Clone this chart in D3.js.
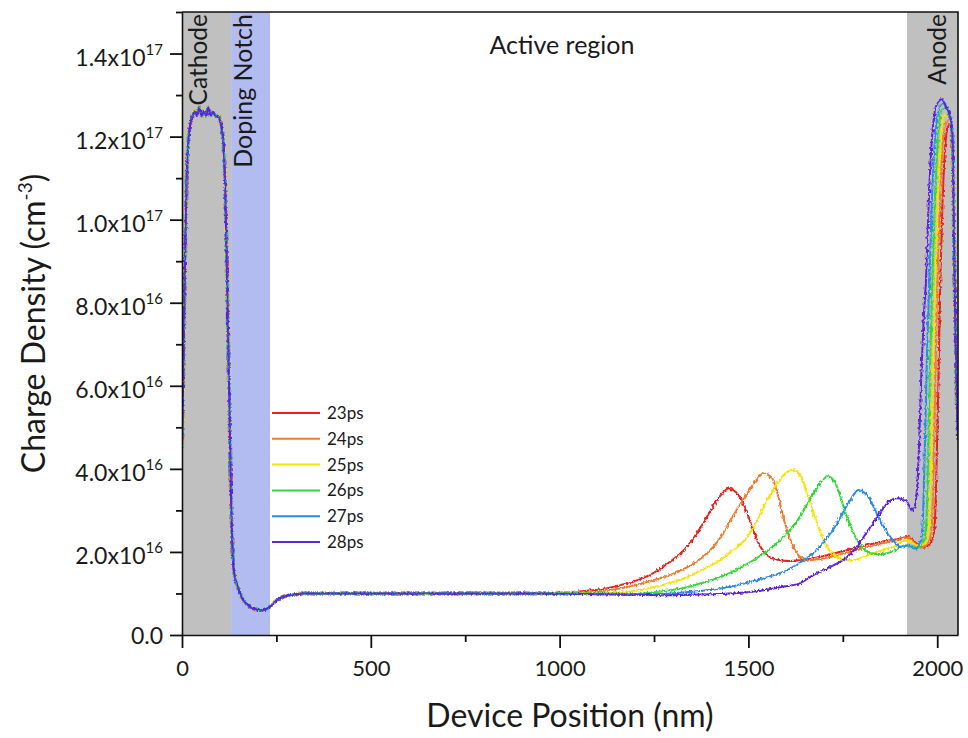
<!DOCTYPE html>
<html>
<head>
<meta charset="utf-8">
<script src="https://cdn.jsdelivr.net/npm/d3@7/dist/d3.min.js"></script>
<style>
  body { margin: 0; background: #fff; }
  svg { display: block; }
  text { font-family: Lato, "Open Sans", "DejaVu Sans", sans-serif; fill: #1a1a1a; }
</style>
</head>
<body>
<svg id="chart" width="968" height="738"></svg>
<script>
// ---- data: charge density (units of 1e16 cm^-3) versus device position (nm) ----
const seriesLabels = ["23ps", "24ps", "25ps", "26ps", "27ps", "28ps"];
const seriesColors = ["#e8231d", "#f07b2e", "#f5e400", "#33d838", "#2b8be3", "#5a22e2"];

// cathode contact, doping notch and flat drift region, common to every snapshot
const cathodeAndBulk = [
  [0, 4.5], [4, 6.6], [8, 9.0], [12, 10.9], [17, 11.9], [22, 12.3], [28, 12.5], [34, 12.6],
  [40, 12.5], [46, 12.7], [52, 12.5], [58, 12.6], [64, 12.5], [70, 12.7], [76, 12.5],
  [82, 12.6], [88, 12.5], [94, 12.5], [100, 12.4], [105, 12.2], [110, 11.8], [114, 10.9],
  [118, 9.2], [122, 7.3], [126, 5.3], [130, 3.3], [133, 2.3], [136, 1.65], [140, 1.4],
  [145, 1.24], [152, 1.05], [158, 0.91], [168, 0.78], [180, 0.68], [193, 0.62], [207, 0.6],
  [216, 0.6], [224, 0.63], [235, 0.7], [251, 0.84], [268, 0.92], [286, 0.96], [305, 0.99],
  [320, 1.0], [500, 1.0], [700, 1.0], [900, 1.0]
];

// active region and anode, one profile per snapshot
const tail23 = [
  [950, 1.0], [1050, 1.05], [1110, 1.1], [1160, 1.2], [1210, 1.33], [1248, 1.49], [1295, 1.78],
  [1337, 2.12], [1360, 2.4], [1380, 2.69], [1400, 3.0], [1417, 3.25], [1435, 3.45], [1446, 3.53],
  [1458, 3.5], [1470, 3.41], [1485, 3.2], [1497, 2.93], [1510, 2.6], [1523, 2.28], [1537, 2.05],
  [1550, 1.92], [1565, 1.84], [1584, 1.8], [1610, 1.78], [1637, 1.8], [1672, 1.85], [1720, 1.95],
  [1761, 2.04], [1805, 2.14], [1849, 2.24], [1890, 2.3], [1923, 2.36], [1945, 2.2], [1963, 2.1],
  [1985, 2.25], [1993, 2.6], [1998, 4.0], [2003, 6.0], [2008, 8.5], [2014, 10.4], [2020, 11.6],
  [2027, 12.2], [2034, 12.3], [2040, 11.8], [2044, 9.8], [2048, 7.5], [2052, 5.6], [2055, 4.7]
];
const tail24 = [
  [950, 1.0], [1050, 1.02], [1100, 1.05], [1160, 1.12], [1248, 1.32], [1300, 1.47], [1337, 1.63],
  [1375, 1.85], [1407, 2.12], [1430, 2.4], [1452, 2.76], [1475, 3.1], [1497, 3.41], [1520, 3.72],
  [1540, 3.89], [1553, 3.85], [1566, 3.73], [1580, 3.3], [1592, 2.84], [1605, 2.45], [1619, 2.12],
  [1637, 1.88], [1660, 1.8], [1690, 1.83], [1717, 1.88], [1760, 1.98], [1805, 2.09], [1850, 2.2],
  [1894, 2.28], [1923, 2.35], [1955, 2.1], [1978, 2.25], [1986, 2.7], [1991, 4.3], [1995, 6.2],
  [2000, 8.5], [2007, 10.5], [2014, 11.8], [2022, 12.3], [2033, 12.4], [2040, 11.9], [2044, 9.8],
  [2048, 7.5], [2052, 5.6], [2055, 4.7]
];
const tail25 = [
  [1000, 1.0], [1100, 1.0], [1160, 1.02], [1248, 1.15], [1337, 1.39], [1380, 1.58], [1425, 1.8],
  [1460, 2.05], [1497, 2.36], [1520, 2.7], [1540, 3.08], [1558, 3.38], [1576, 3.65], [1597, 3.88],
  [1616, 3.97], [1630, 3.92], [1642, 3.75], [1655, 3.41], [1668, 3.05], [1682, 2.69], [1695, 2.38],
  [1708, 2.12], [1722, 1.97], [1735, 1.88], [1755, 1.82], [1778, 1.8], [1805, 1.88], [1831, 1.97],
  [1858, 2.05], [1884, 2.12], [1920, 2.28], [1950, 2.15], [1972, 2.25], [1979, 2.7], [1984, 4.3],
  [1989, 6.5], [1995, 8.5], [2002, 10.5], [2009, 11.8], [2018, 12.5], [2030, 12.5], [2040, 12.0],
  [2044, 9.8], [2048, 7.5], [2052, 5.6], [2055, 4.7]
];
const tail26 = [
  [1100, 1.0], [1200, 0.99], [1270, 1.05], [1337, 1.15], [1380, 1.26], [1425, 1.39], [1470, 1.58],
  [1513, 1.8], [1550, 2.02], [1584, 2.28], [1612, 2.55], [1637, 2.85], [1655, 3.15], [1672, 3.41],
  [1692, 3.68], [1711, 3.82], [1723, 3.75], [1735, 3.56], [1748, 3.2], [1761, 2.84], [1775, 2.52],
  [1788, 2.28], [1805, 2.08], [1823, 1.97], [1845, 1.95], [1867, 1.97], [1890, 2.05], [1908, 2.14],
  [1923, 2.16], [1950, 2.1], [1964, 2.25], [1971, 2.7], [1976, 4.3], [1981, 6.5], [1987, 8.5],
  [1994, 10.5], [2001, 11.8], [2010, 12.6], [2022, 12.7], [2032, 12.5], [2040, 12.1], [2044, 9.8],
  [2048, 7.5], [2052, 5.6], [2055, 4.7]
];
const tail27 = [
  [1150, 0.99], [1250, 0.98], [1340, 1.03], [1425, 1.12], [1470, 1.2], [1513, 1.3], [1560, 1.42],
  [1600, 1.55], [1637, 1.75], [1672, 1.97], [1705, 2.3], [1735, 2.69], [1752, 2.98], [1770, 3.25],
  [1791, 3.49], [1808, 3.42], [1823, 3.25], [1836, 3.0], [1849, 2.76], [1862, 2.55], [1876, 2.36],
  [1889, 2.22], [1902, 2.12], [1923, 2.16], [1942, 2.08], [1956, 2.25], [1962, 2.8], [1967, 4.5],
  [1973, 6.8], [1979, 8.5], [1986, 10.5], [1993, 11.8], [2003, 12.6], [2015, 12.8], [2030, 12.6],
  [2040, 12.1], [2044, 9.8], [2048, 7.5], [2052, 5.6], [2055, 4.7]
];
const tail28 = [
  [1200, 0.97], [1300, 0.96], [1400, 0.98], [1480, 1.02], [1540, 1.08], [1584, 1.15], [1637, 1.25],
  [1672, 1.44], [1715, 1.63], [1761, 1.88], [1785, 2.1], [1805, 2.36], [1823, 2.6], [1841, 2.84],
  [1855, 3.02], [1867, 3.17], [1880, 3.26], [1894, 3.29], [1907, 3.27], [1920, 3.2], [1930, 3.05],
  [1936, 3.0], [1942, 3.15], [1947, 3.6], [1952, 4.6], [1958, 6.3], [1964, 7.6], [1970, 8.5],
  [1977, 10.3], [1984, 11.7], [1992, 12.5], [2000, 12.8], [2012, 12.9], [2024, 12.7], [2034, 12.5],
  [2040, 12.1], [2044, 9.8], [2048, 7.5], [2052, 5.6], [2055, 4.7]
];
const seriesTails = [tail23, tail24, tail25, tail26, tail27, tail28];

// device regions (nm)
const regionNames = ["Cathode", "Doping Notch", "Anode"];
const regionStarts = [0, 130, 1920];
const regionEnds = [130, 233, 2055];
const regionFills = ["#c0c0c0", "#b3bcf0", "#c0c0c0"];

// axes
const xMajorTicks = [0, 500, 1000, 1500, 2000];
const xMinorTicks = [250, 750, 1250, 1750];
const yMajorTicks = [0, 2e16, 4e16, 6e16, 8e16, 1e17, 1.2e17, 1.4e17];
const yMinorTicks = [1e16, 3e16, 5e16, 7e16, 9e16, 1.1e17, 1.3e17, 1.5e17];
const yTickMantissas = ["0.0", "2.0", "4.0", "6.0", "8.0", "1.0", "1.2", "1.4"];
const yTickExponents = [null, "16", "16", "16", "16", "17", "17", "17"];

// ---- drawing ----
const svg = d3.select("#chart");
const W = 968, H = 738;
const plot = { left: 182, right: 958, top: 12, bottom: 635 };

svg.append("rect").attr("width", W).attr("height", H).attr("fill", "#fff");

const x = d3.scaleLinear().domain([0, 2055]).range([plot.left, plot.right]);
const y = d3.scaleLinear().domain([0, 1.5e17]).range([plot.bottom, plot.top]);

const defs = svg.append("defs");
defs.append("clipPath").attr("id", "plot-clip")
  .append("rect")
  .attr("x", plot.left).attr("y", plot.top)
  .attr("width", plot.right - plot.left).attr("height", plot.bottom - plot.top);

// jitter texture giving each simulated profile its Monte-Carlo noise look
seriesLabels.forEach((s, i) => {
  const f = defs.append("filter").attr("id", "jitter" + i)
    .attr("x", "-2%").attr("y", "-5%").attr("width", "104%").attr("height", "110%");
  f.append("feTurbulence").attr("type", "fractalNoise")
    .attr("baseFrequency", "0.5 0.3").attr("numOctaves", 2).attr("seed", 3 + i * 7)
    .attr("result", "noise");
  f.append("feDisplacementMap").attr("in", "SourceGraphic").attr("in2", "noise")
    .attr("scale", 4).attr("xChannelSelector", "R").attr("yChannelSelector", "G");
});

// shaded device regions
svg.append("g").selectAll("rect")
  .data(regionNames)
  .join("rect")
  .attr("x", (d, i) => x(regionStarts[i]))
  .attr("width", (d, i) => x(regionEnds[i]) - x(regionStarts[i]))
  .attr("y", plot.top)
  .attr("height", plot.bottom - plot.top)
  .attr("fill", (d, i) => regionFills[i]);

// density profiles
const line = d3.line()
  .x(d => x(d[0]))
  .y(d => y(d[1] * 1e16))
  .curve(d3.curveMonotoneX);

const lines = svg.append("g").attr("clip-path", "url(#plot-clip)");
seriesTails.forEach((tail, i) => {
  lines.append("g").attr("filter", `url(#jitter${i})`)
    .append("path")
    .datum(cathodeAndBulk.concat(tail))
    .attr("d", line)
    .attr("fill", "none")
    .attr("stroke", seriesColors[i])
    .attr("stroke-width", 2)
    .attr("stroke-linejoin", "round");
});

// frame
svg.append("path")
  .attr("d", `M${plot.left},${plot.top}H${plot.right}V${plot.bottom}`)
  .attr("fill", "none").attr("stroke", "#111").attr("stroke-width", 1.6);

const tickFont = "Lato, 'Open Sans', sans-serif";

// x axis
const xAxis = svg.append("g").attr("transform", `translate(0,${plot.bottom})`);
const xMajor = xAxis.append("g")
  .call(d3.axisBottom(x).tickValues(xMajorTicks).tickSize(13).tickPadding(12).tickSizeOuter(0).tickFormat(d3.format("d")));
xMajor.selectAll(".tick text").attr("font-size", 22).attr("fill", "#1a1a1a").attr("font-family", tickFont);
xAxis.append("g")
  .call(d3.axisBottom(x).tickValues(xMinorTicks).tickSize(7).tickSizeOuter(0).tickFormat(""))
  .call(g => g.select(".domain").remove())
  .call(g => g.selectAll(".tick text").remove());
xAxis.selectAll(".domain").attr("stroke", "#111").attr("stroke-width", 1.6);
xAxis.selectAll(".tick line").attr("stroke", "#111").attr("stroke-width", 1.8);

// y axis
const yAxis = svg.append("g").attr("transform", `translate(${plot.left},0)`);
const yMajor = yAxis.append("g")
  .call(d3.axisLeft(y).tickValues(yMajorTicks).tickSize(12).tickPadding(7).tickSizeOuter(0));
yMajor.selectAll(".tick text").each(function (d) {
  const i = yMajorTicks.indexOf(d);
  const t = d3.select(this)
    .attr("font-size", 23).attr("fill", "#1a1a1a")
    .attr("font-family", tickFont)
    .attr("dy", null);
  t.text(null);
  if (yTickExponents[i] === null) {
    t.attr("y", 8).text(yTickMantissas[i]);
  } else {
    t.attr("y", 12);
    t.append("tspan").text(yTickMantissas[i] + "x10");
    t.append("tspan").attr("font-size", 15).attr("dy", -11).text(yTickExponents[i]);
  }
});
yAxis.append("g")
  .call(d3.axisLeft(y).tickValues(yMinorTicks).tickSize(6).tickSizeOuter(0).tickFormat(""))
  .call(g => g.select(".domain").remove())
  .call(g => g.selectAll(".tick text").remove());
yAxis.selectAll(".domain").attr("stroke", "#111").attr("stroke-width", 1.6);
yAxis.selectAll(".tick line").attr("stroke", "#111").attr("stroke-width", 1.8);

// axis titles
svg.append("text")
  .attr("x", 570).attr("y", 727)
  .attr("text-anchor", "middle")
  .attr("font-size", 32)
  .text("Device Position (nm)");

const yTitle = svg.append("text")
  .attr("transform", `translate(45,${(plot.top + plot.bottom) / 2}) rotate(-90)`)
  .attr("text-anchor", "middle")
  .attr("font-size", 32);
yTitle.append("tspan").text("Charge Density (cm");
yTitle.append("tspan").attr("font-size", 19).attr("dy", -13).text("-3");
yTitle.append("tspan").attr("dy", 13).text(")");

// region labels
svg.append("text")
  .attr("x", 562).attr("y", 54)
  .attr("text-anchor", "middle")
  .attr("font-size", 25)
  .text("Active region");

const regionLabelX = [207, 252, 946];
regionNames.forEach((name, i) => {
  svg.append("text")
    .attr("transform", `translate(${regionLabelX[i]},${plot.top + 2}) rotate(-90)`)
    .attr("text-anchor", "end")
    .attr("font-size", i === 1 ? 25 : 24.5)
    .text(name);
});

// legend
const legend = svg.append("g").attr("transform", "translate(272,413)");
seriesLabels.forEach((label, i) => {
  const row = legend.append("g").attr("transform", `translate(0,${i * 25.8})`);
  row.append("line").attr("x1", 0).attr("x2", 48).attr("y1", 0).attr("y2", 0)
    .attr("stroke", seriesColors[i]).attr("stroke-width", 2);
  row.append("text").attr("x", 55).attr("y", 6)
    .attr("font-size", 17).text(label);
});
</script>
</body>
</html>
